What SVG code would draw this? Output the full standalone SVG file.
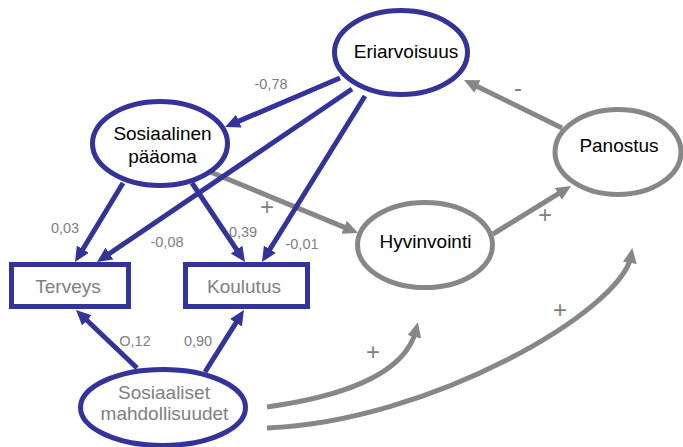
<svg xmlns="http://www.w3.org/2000/svg" width="683" height="447" viewBox="0 0 683 447">
<style>
.bl{stroke:#333399;stroke-width:5;fill:none}
.gl{stroke:#878787;stroke-width:5;fill:none}
.bn{stroke:#333399;stroke-width:5;fill:#fff}
.gn{stroke:#878787;stroke-width:5;fill:#fff}
.t{font-family:"Liberation Sans",Arial,sans-serif;font-size:19px;text-anchor:middle;fill:#000}
.tg{font-family:"Liberation Sans",Arial,sans-serif;font-size:19px;text-anchor:middle;fill:#808080}
.lb{font-family:"Liberation Sans",Arial,sans-serif;font-size:14.5px;text-anchor:middle;fill:#808080}
.sg{font-family:"Liberation Sans",Arial,sans-serif;font-size:24px;text-anchor:middle;fill:#808080}
</style>
<defs>
<marker id="ab" markerUnits="userSpaceOnUse" markerWidth="16" markerHeight="16" viewBox="0 0 16 16" refX="7" refY="8" orient="auto"><path d="M0,1 L15,8 L0,15 z" fill="#333399"/></marker>
<marker id="ag" markerUnits="userSpaceOnUse" markerWidth="16" markerHeight="16" viewBox="0 0 16 16" refX="7" refY="8" orient="auto"><path d="M0,1 L15,8 L0,15 z" fill="#878787"/></marker>
</defs>
<g id="connectors">
<line class="gl" x1="208" y1="171" x2="350.6" y2="229.9" marker-end="url(#ag)"/>
<line class="gl" x1="493" y1="234" x2="564.2" y2="190.2" marker-end="url(#ag)"/>
<line class="gl" x1="562" y1="128" x2="471.2" y2="83.5" marker-end="url(#ag)"/>
<path class="gl" d="M267,407 C340,397 405,375 416,330" marker-end="url(#ag)"/>
<path class="gl" d="M267,428 C430,422 622,310 631,256" marker-end="url(#ag)"/>
<line class="bl" x1="340" y1="78" x2="232.4" y2="123.9" marker-end="url(#ab)"/>
<line class="bl" x1="352" y1="89" x2="103.6" y2="257.5" marker-end="url(#ab)"/>
<line class="bl" x1="365" y1="96" x2="266.2" y2="255.2" marker-end="url(#ab)"/>
<line class="bl" x1="123" y1="183" x2="79.2" y2="255.2" marker-end="url(#ab)"/>
<line class="bl" x1="192" y1="183" x2="240.5" y2="255.4" marker-end="url(#ab)"/>
<line class="bl" x1="137" y1="368" x2="81.8" y2="315.5" marker-end="url(#ab)"/>
<line class="bl" x1="205" y1="372" x2="239.7" y2="316.8" marker-end="url(#ab)"/>
<text class="lb" x="271" y="89">-0,78</text>
<text class="lb" x="65" y="233">0,03</text>
<text class="lb" x="167" y="247">-0,08</text>
<text class="lb" x="243" y="237">0,39</text>
<text class="lb" x="302" y="249">-0,01</text>
<text class="lb" x="135" y="346">O,12</text>
<text class="lb" x="198" y="346">0,90</text>
<text class="sg" x="267" y="215">+</text>
<text class="sg" x="545" y="223">+</text>
<text class="sg" x="373" y="360">+</text>
<text class="sg" x="560" y="318">+</text>
<text class="sg" x="518" y="96">-</text>
</g>
<g id="eriarvoisuus"><ellipse class="bn" cx="401" cy="52.5" rx="66.5" ry="42"/><text class="t" x="406" y="58">Eriarvoisuus</text></g>
<g id="sosiaalinen-paaoma"><ellipse class="bn" cx="160" cy="143.5" rx="67.5" ry="42"/><text class="t" x="162.5" y="140">Sosiaalinen</text><text class="t" x="162.5" y="163">pääoma</text></g>
<g id="panostus"><ellipse class="gn" cx="618" cy="152" rx="63" ry="42.5"/><text class="t" x="619" y="152">Panostus</text></g>
<g id="hyvinvointi"><ellipse class="gn" cx="425" cy="245" rx="67.5" ry="42.5"/><text class="t" x="425.5" y="248">Hyvinvointi</text></g>
<g id="terveys"><rect class="bn" x="11.5" y="264.5" width="117" height="42"/><text class="tg" x="68" y="293">Terveys</text></g>
<g id="koulutus"><rect class="bn" x="185.5" y="264.5" width="122" height="42"/><text class="tg" x="244" y="293">Koulutus</text></g>
<g id="sosiaaliset-mahdollisuudet"><ellipse class="bn" cx="163" cy="407.5" rx="82.5" ry="38"/><text class="tg" x="164" y="399">Sosiaaliset</text><text class="tg" x="164.5" y="420">mahdollisuudet</text></g>
</svg>
